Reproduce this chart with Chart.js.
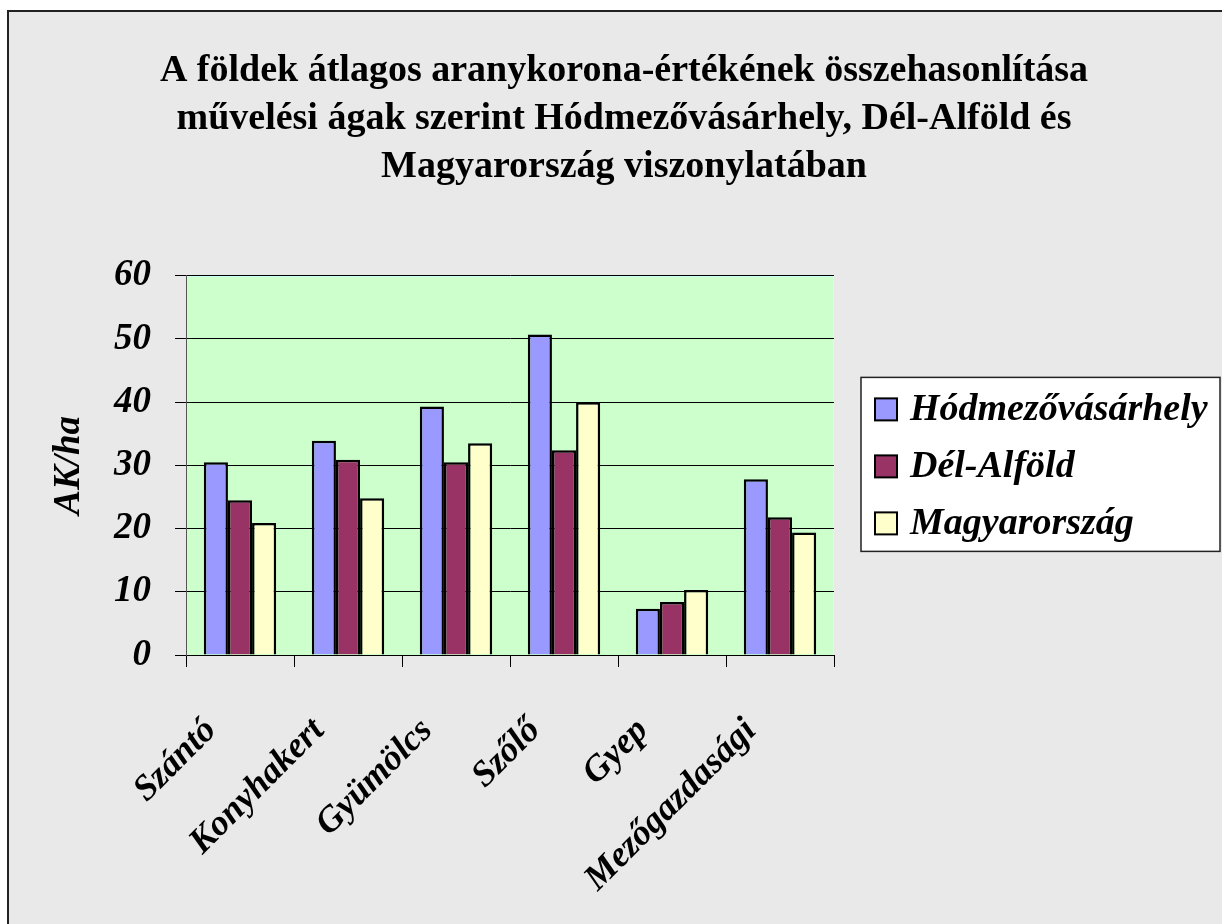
<!DOCTYPE html>
<html>
<head>
<meta charset="utf-8">
<script src="https://cdn.jsdelivr.net/npm/chart.js@4.4.0/dist/chart.umd.min.js"></script>
<style>
  html, body { margin: 0; padding: 0; background: #fff; }
  #wrap { width: 1222px; height: 924px; }
</style>
</head>
<body>
<div id="wrap"><canvas id="chart"></canvas></div>
<script>
// data
const categories = ['Szántó', 'Konyhakert', 'Gyümölcs', 'Szőlő', 'Gyep', 'Mezőgazdasági'];
const hodmezo = [30.5, 33.9, 39.3, 50.7, 7.3, 27.8];
const delAlfold = [24.5, 30.9, 30.5, 32.4, 8.4, 21.8];
const magyarorszag = [20.9, 24.8, 33.5, 40.0, 10.3, 19.4];
const titleLines = [
  'A földek átlagos aranykorona-értékének összehasonlítása',
  'művelési ágak szerint Hódmezővásárhely, Dél-Alföld és',
  'Magyarország viszonylatában'
];

const serif = "'Liberation Serif', 'Times New Roman', serif";
const legendFont = 'italic bold 38px ' + serif;

// page background, frame and plot area fill
const backdrop = {
  id: 'backdrop',
  beforeDraw(chart) {
    const ctx = chart.ctx, a = chart.chartArea;
    ctx.save();
    ctx.fillStyle = '#ffffff';
    ctx.fillRect(0, 0, chart.width, chart.height);
    ctx.fillStyle = '#e9e9e9';
    ctx.fillRect(8, 11, chart.width - 8, chart.height - 11);
    ctx.strokeStyle = '#222';
    ctx.lineWidth = 2;
    ctx.beginPath();
    ctx.moveTo(8, chart.height);
    ctx.lineTo(8, 11);
    ctx.lineTo(chart.width, 11);
    ctx.stroke();
    ctx.fillStyle = '#ccffcc';
    ctx.fillRect(a.left, a.top, a.right - a.left, a.bottom - a.top);
    ctx.strokeStyle = '#ccffff';
    ctx.lineWidth = 1;
    ctx.beginPath();
    ctx.moveTo(a.left, a.top + 0.5);
    ctx.lineTo(a.right - 0.5, a.top + 0.5);
    ctx.lineTo(a.right - 0.5, a.bottom);
    ctx.stroke();
    ctx.restore();
  },
  // legend box drawn from the datasets, to the right of the plot
  afterDraw(chart) {
    const ctx = chart.ctx, a = chart.chartArea;
    const mid = (a.top + a.bottom) / 2;
    const x0 = a.right + 27, y0 = mid - 88, h = 174;
    ctx.save();
    ctx.fillStyle = '#ffffff';
    ctx.fillRect(x0, y0, chart.width - 2 - x0, h);
    ctx.strokeStyle = '#222';
    ctx.lineWidth = 1.5;
    ctx.strokeRect(x0, y0, chart.width - 2 - x0, h);
    ctx.font = legendFont;
    ctx.textBaseline = 'middle';
    ctx.textAlign = 'left';
    chart.data.datasets.forEach((ds, i) => {
      const cy = mid - 56 + i * 57;
      ctx.fillStyle = ds.backgroundColor;
      ctx.fillRect(x0 + 14, cy - 11, 22, 22);
      ctx.strokeStyle = '#000';
      ctx.lineWidth = 2;
      ctx.strokeRect(x0 + 14, cy - 11, 22, 22);
      ctx.fillStyle = '#000';
      ctx.fillText(ds.label, x0 + 49, cy + 1);
    });
    ctx.restore();
  }
};

new Chart(document.getElementById('chart'), {
  type: 'bar',
  data: {
    labels: categories,
    datasets: [
      { label: 'Hódmezővásárhely', data: hodmezo, backgroundColor: '#9999ff' },
      { label: 'Dél-Alföld', data: delAlfold, backgroundColor: '#993366' },
      { label: 'Magyarország', data: magyarorszag, backgroundColor: '#ffffcc' }
    ]
  },
  options: {
    responsive: true,
    maintainAspectRatio: false,
    animation: false,
    layout: { padding: { left: 47, right: 21, top: 0, bottom: 0 } },
    datasets: {
      bar: {
        borderColor: '#000',
        borderWidth: 2.5,
        categoryPercentage: 0.67,
        barPercentage: 1.0
      }
    },
    plugins: {
      title: {
        display: true,
        text: titleLines,
        color: '#000',
        font: { family: serif, size: 38, weight: 'bold', lineHeight: 1.27 },
        padding: { top: 47, bottom: 84 }
      },
      legend: { display: false },
      tooltip: { enabled: false }
    },
    scales: {
      x: {
        afterFit(scale) { scale.height = 924 - 655; },
        grid: { drawOnChartArea: false, drawTicks: true, tickLength: 12, color: '#000', offset: true },
        border: { color: '#000', width: 1 },
        ticks: {
          autoSkip: false,
          minRotation: 45,
          maxRotation: 45,
          padding: 43,
          labelOffset: -29,
          color: '#000',
          font: { family: serif, size: 36, weight: 'bold', style: 'italic' }
        }
      },
      y: {
        min: 0,
        max: 60,
        afterFit(scale) { scale.width = 186 - 47; },
        grid: { color: '#000', lineWidth: 1, tickLength: 11 },
        border: { color: '#555', width: 1 },
        ticks: {
          stepSize: 10,
          padding: 24,
          color: '#000',
          font: { family: serif, size: 37, weight: 'bold', style: 'italic' }
        },
        title: {
          display: true,
          text: 'AK/ha',
          color: '#000',
          padding: { top: 0, bottom: 10 },
          font: { family: serif, size: 37, weight: 'bold', style: 'italic' }
        }
      },
      // empty right-hand axis that only keeps room for the legend box
      legendSpace: {
        axis: 'y',
        position: 'right',
        min: 0,
        max: 60,
        afterFit(scale) { scale.width = 1222 - 21 - 834; },
        grid: { display: false },
        border: { display: false },
        ticks: { display: false }
      }
    }
  },
  plugins: [backdrop]
});
</script>
</body>
</html>
